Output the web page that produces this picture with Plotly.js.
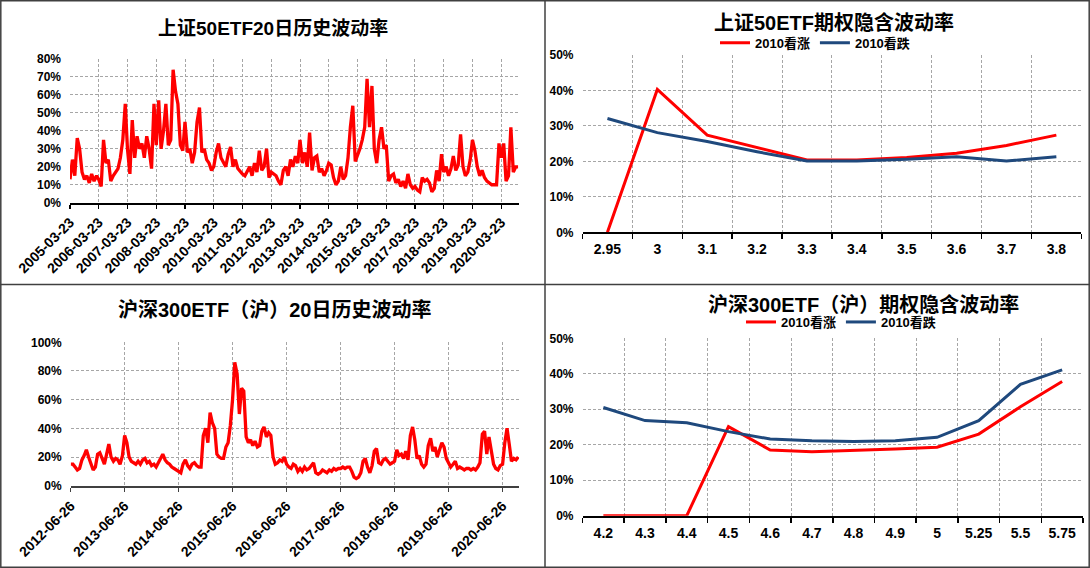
<!DOCTYPE html>
<html>
<head>
<meta charset="utf-8">
<script src="https://cdn.plot.ly/plotly-3.0.1.min.js"></script>
<style>html,body{margin:0;padding:0;background:#fff;}#chart{width:1090px;height:568px;}</style>
</head>
<body>
<div id="chart"></div>
<script>
// ---------- DATA ----------
// 上证50ETF 20日历史波动率 (%), monthly readings from 2005-03-23
const sz50Start = '2005-03-23';
const sz50HV = [13,24,15,36,30,17,13,15,11,16,12,15,13,9,35,22,24,12,15,17,19,25,35,55,30,16,46,25,37,30,
33,25,37,30,19,55,32,57,30,40,55,32,35,74,62,55,32,29,45,28,30,22,28,45,53,28,30,24,22,18,
20,28,33,25,22,20,27,31,20,24,19,17,16,15,18,20,15,22,17,29,18,20,30,14,17,16,15,12,10,18,
20,15,24,20,26,22,35,22,28,20,39,18,25,26,17,19,15,18,22,21,14,10,12,20,13,15,25,42,54,23,
26,30,35,42,69,42,65,30,22,35,42,30,32,12,15,16,11,13,9,12,8,16,10,8,9,7,6,14,12,13,
11,6,8,18,12,27,17,20,15,19,26,18,21,38,20,15,17,24,35,29,20,15,18,14,12,11,10,10,10,33,
25,33,12,15,42,17,20,20];
const sz50Ticks = ['2005-03-23','2006-03-23','2007-03-23','2008-03-23','2009-03-23','2010-03-23','2011-03-23','2012-03-23',
'2013-03-23','2014-03-23','2015-03-23','2016-03-23','2017-03-23','2018-03-23','2019-03-23','2020-03-23'];

// 沪深300ETF（沪）20日历史波动率 (%), half-monthly readings from 2012-06-26
const hs300Start = '2012-06-26';
const hs300HV = [15,15,13,11,12,18,21,25,20,15,11,13,22,23,18,15,22,29,20,17,19,18,15,21,35,30,20,17,16,15,
17,15,18,19,16,17,14,15,13,16,19,22,18,16,15,13,12,11,10,9,15,18,14,12,15,16,14,13,13,35,
40,30,51,44,40,22,20,19,19,27,30,42,60,86,78,50,68,66,34,30,32,28,31,27,28,38,41,34,37,35,
20,15,16,18,17,20,15,13,12,15,14,10,12,10,13,11,12,14,16,9,8,9,11,10,9,11,10,12,11,12,
12,13,12,13,13,10,6,5,6,9,17,19,13,9,14,24,26,16,15,18,19,17,15,16,17,25,21,22,19,24,
18,35,41,32,19,21,15,13,15,28,33,24,27,20,25,30,27,19,16,13,15,17,12,13,12,11,12,12,11,12,
11,13,16,36,38,22,34,25,15,12,11,14,15,30,40,29,17,19,18,20];
const hs300Ticks = ['2012-06-26','2013-06-26','2014-06-26','2015-06-26','2016-06-26','2017-06-26','2018-06-26','2019-06-26','2020-06-26'];

// 上证50ETF期权隐含波动率 (%)
const sz50Strikes = ['2.95','3','3.1','3.2','3.3','3.4','3.5','3.6','3.7','3.8'];
const sz50Call = [0,40.3,27.4,23.9,20.4,20.4,21.1,22.3,24.5,27.4];
const sz50Put  = [32.1,28.1,25.6,22.7,20.1,20.1,20.6,21.3,20.1,21.3];

// 沪深300ETF（沪）期权隐含波动率 (%)
const hs300Strikes = ['4.2','4.3','4.4','4.5','4.6','4.7','4.8','4.9','5','5.25','5.5','5.75'];
const hs300Call = [0,0,0,25.1,18.5,18.0,18.3,18.8,19.3,23.0,30.7,37.8];
const hs300Put  = [30.5,26.8,26.2,23.7,21.6,21.1,20.9,21.1,22.1,26.8,37.0,41.1];

const seriesNames = ['2010看涨','2010看跌'];

// ---------- helpers ----------
function monthlyDates(startStr, n){
  const [y,m,d] = startStr.split('-').map(Number);
  const out=[];
  for(let i=0;i<n;i++){ out.push(new Date(Date.UTC(y,m-1+i,d)).toISOString().slice(0,10)); }
  return out;
}
function halfMonthDates(startStr, n){
  const t0 = Date.parse(startStr+'T00:00:00Z');
  const step = 365.25/24*86400000;
  const out=[];
  for(let i=0;i<n;i++){ out.push(new Date(t0+i*step).toISOString().slice(0,10)); }
  return out;
}
const W=1090, H=568;
const xd = (a,b)=>[a/W,b/W];
const yd = (top,bottom)=>[1-bottom/H, 1-top/H];

const RED='#FF0000', BLUE='#1F497D';
const GRID='#A6A6A6';
const LAT='Liberation Sans, Arial, Noto Sans CJK SC, sans-serif';
const tickFontB = {family:LAT, size:12, color:'#000', weight:'bold'};
const dateFont = {family:LAT, size:14, color:'#000', weight:'bold'};

function yAxis(range, dtick, domain, anchor){
  return {domain:domain, anchor:anchor, range:range, dtick:dtick, tick0:0, ticksuffix:'%',
    showgrid:true, gridcolor:GRID, griddash:'3px,2px', gridwidth:1, zeroline:false, showline:false,
    ticks:'', ticklabelstandoff:8, tickfont:tickFontB, fixedrange:true, automargin:false};
}
function dateAxis(range, ticks, domain, anchor, lineColor, lw){
  return {type:'date', domain:domain, anchor:anchor, range:range, tickmode:'array', tickvals:ticks, ticktext:ticks,
    tickangle:-45, tickfont:dateFont, showgrid:true, gridcolor:GRID, griddash:'3px,2px', gridwidth:1,
    showline:true, linecolor:lineColor, linewidth:lw, ticks:'outside', ticklen:4, tickwidth:1.5, tickcolor:lineColor,
    zeroline:false, fixedrange:true, automargin:false, layer:'below traces'};
}
function catAxis(cats, domain, anchor){
  return {type:'category', domain:domain, anchor:anchor, range:[-0.5, cats.length-0.5], tickson:'boundaries',
    ticks:'outside', ticklen:5, tickwidth:1.5, tickcolor:'#000', showline:true, linecolor:'#000', linewidth:2,
    showgrid:true, gridcolor:GRID, griddash:'3px,2px', gridwidth:1, zeroline:false,
    tickfont:{family:LAT, size:14, color:'#000', weight:'bold'}, ticklabelstandoff:3,
    fixedrange:true, automargin:false, layer:'below traces'};
}

const traces = [
  {x:monthlyDates(sz50Start, sz50HV.length), y:sz50HV, xaxis:'x', yaxis:'y', type:'scatter', mode:'lines',
   line:{color:RED, width:3.3}, showlegend:false},
  {x:sz50Strikes, y:sz50Call, xaxis:'x2', yaxis:'y2', type:'scatter', mode:'lines', name:seriesNames[0],
   line:{color:RED, width:3}, legend:'legend', cliponaxis:false},
  {x:sz50Strikes, y:sz50Put, xaxis:'x2', yaxis:'y2', type:'scatter', mode:'lines', name:seriesNames[1],
   line:{color:BLUE, width:3}, legend:'legend', cliponaxis:false},
  {x:halfMonthDates(hs300Start, hs300HV.length), y:hs300HV, xaxis:'x3', yaxis:'y3', type:'scatter', mode:'lines',
   line:{color:RED, width:3.3}, showlegend:false},
  {x:hs300Strikes, y:hs300Call, xaxis:'x4', yaxis:'y4', type:'scatter', mode:'lines', name:seriesNames[0],
   line:{color:RED, width:3}, legend:'legend2', cliponaxis:false},
  {x:hs300Strikes, y:hs300Put, xaxis:'x4', yaxis:'y4', type:'scatter', mode:'lines', name:seriesNames[1],
   line:{color:BLUE, width:3}, legend:'legend2', cliponaxis:false}
];

const legendFont = {family:LAT, size:13, color:'#000', weight:'bold'};
const titleFont = (s)=>({family:LAT, size:s, color:'#000', weight:'bold'});

const layout = {
  width:W, height:H, margin:{l:0,r:0,t:0,b:0}, autosize:false,
  paper_bgcolor:'#fff', plot_bgcolor:'rgba(0,0,0,0)',
  xaxis: dateAxis(['2005-03-23','2020-10-28'], sz50Ticks, xd(70,518.5), 'y', '#000', 2),
  yaxis: yAxis([0,80], 10, yd(59,202.7), 'x'),
  xaxis2: catAxis(sz50Strikes, xd(582.5,1081.3), 'y2'),
  yaxis2: yAxis([0,50], 10, yd(55,232.3), 'x2'),
  xaxis3: dateAxis(['2012-06-26','2020-10-15'], hs300Ticks, xd(70.7,519), 'y3', '#404040', 2.5),
  yaxis3: yAxis([0,100], 20, yd(342.3,485.7), 'x3'),
  xaxis4: catAxis(hs300Strikes, xd(582.5,1083), 'y4'),
  yaxis4: yAxis([0,50], 10, yd(338.3,515.7), 'x4'),
  legend: {orientation:'h', x:715/W, xanchor:'left', y:1-42.7/H, yanchor:'middle', font:legendFont,
           bgcolor:'rgba(0,0,0,0)', borderwidth:0, itemwidth:30, traceorder:'normal'},
  legend2: {orientation:'h', x:741/W, xanchor:'left', y:1-322/H, yanchor:'middle', font:legendFont,
           bgcolor:'rgba(0,0,0,0)', borderwidth:0, itemwidth:30, traceorder:'normal'},
  annotations: [
    {text:'上证50ETF20日历史波动率', xref:'paper', yref:'paper', x:273/W, y:1-28/H, xanchor:'center', yanchor:'middle', showarrow:false, font:titleFont(19)},
    {text:'上证50ETF期权隐含波动率', xref:'paper', yref:'paper', x:833.5/W, y:1-22.7/H, xanchor:'center', yanchor:'middle', showarrow:false, font:titleFont(20)},
    {text:'沪深300ETF（沪）20日历史波动率', xref:'paper', yref:'paper', x:274.7/W, y:1-310/H, xanchor:'center', yanchor:'middle', showarrow:false, font:titleFont(20)},
    {text:'沪深300ETF（沪）期权隐含波动率', xref:'paper', yref:'paper', x:863.6/W, y:1-304/H, xanchor:'center', yanchor:'middle', showarrow:false, font:titleFont(20)}
  ],
  shapes: [
    {type:'rect', xref:'paper', yref:'paper', x0:0.8/W, x1:1-0.8/W, y0:0.8/H, y1:1-0.8/H, line:{color:'#404040', width:1.5}},
    {type:'line', xref:'paper', yref:'paper', x0:545/W, x1:545/W, y0:0, y1:1, line:{color:'#404040', width:1.5}},
    {type:'line', xref:'paper', yref:'paper', x0:0, x1:1, y0:1-284.5/H, y1:1-284.5/H, line:{color:'#404040', width:1.5}}
  ]
};

Plotly.newPlot('chart', traces, layout, {staticPlot:true, displayModeBar:false});
</script>
</body>
</html>
